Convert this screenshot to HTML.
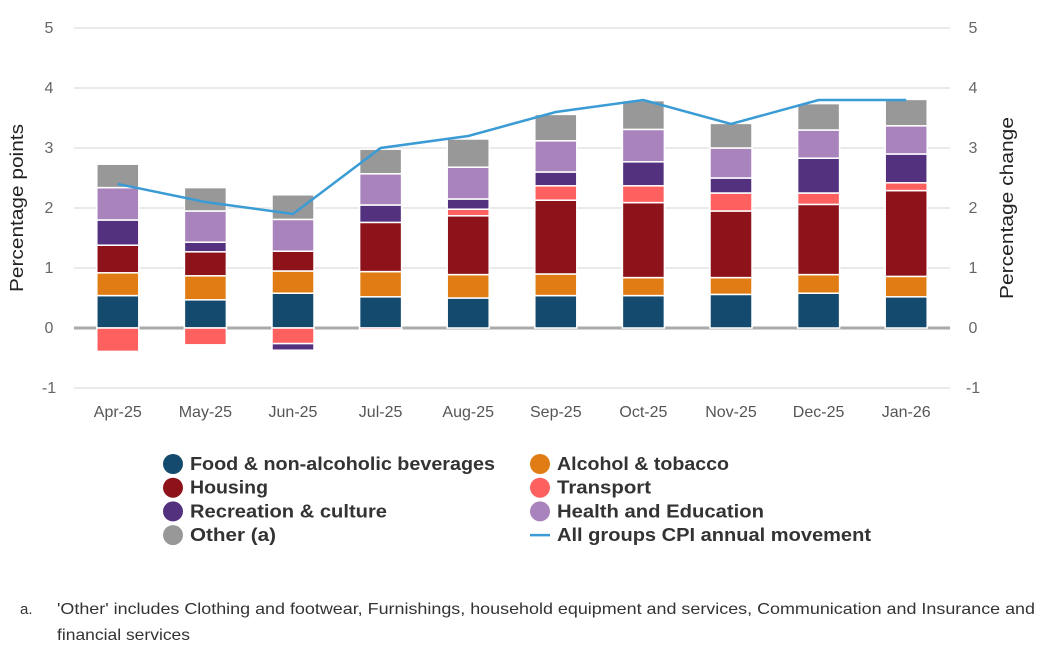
<!DOCTYPE html>
<html><head><meta charset="utf-8"><style>
body{margin:0;background:#fff;font-family:"Liberation Sans",sans-serif}
svg text{font-family:"Liberation Sans",sans-serif}
</style></head><body>
<svg id="chart" width="1041" height="648" xmlns="http://www.w3.org/2000/svg">
<g id="grid"></g><g id="bars"></g><g id="line"></g><g id="axes"></g><g id="legend"></g>
<text x="20" y="614" font-size="15" fill="#333">a.</text>
<text x="57" y="614" font-size="16" fill="#333" textLength="978" lengthAdjust="spacingAndGlyphs">'Other' includes Clothing and footwear, Furnishings, household equipment and services, Communication and Insurance and</text>
<text x="57" y="640" font-size="16" fill="#333" textLength="133" lengthAdjust="spacingAndGlyphs">financial services</text>
</svg>
<script>
const categories=["Apr-25","May-25","Jun-25","Jul-25","Aug-25","Sep-25","Oct-25","Nov-25","Dec-25","Jan-26"];
const food=[0.54,0.47,0.58,0.52,0.50,0.54,0.54,0.56,0.58,0.52];
const alcohol=[0.38,0.40,0.37,0.42,0.39,0.36,0.30,0.28,0.31,0.34];
const housing=[0.46,0.40,0.33,0.82,0.98,1.23,1.25,1.11,1.17,1.43];
const transport=[-0.39,-0.28,-0.26,-0.03,0.11,0.24,0.28,0.30,0.19,0.13];
const recreation=[0.42,0.16,-0.11,0.29,0.17,0.23,0.40,0.25,0.58,0.48];
const health=[0.54,0.52,0.53,0.52,0.53,0.52,0.54,0.50,0.47,0.47];
const other=[0.39,0.39,0.41,0.41,0.47,0.44,0.48,0.41,0.44,0.44];
const cpi=[2.4,2.1,1.9,3.0,3.2,3.6,3.8,3.4,3.8,3.8];
const yTicks=[-1,0,1,2,3,4,5];
const seriesNames=["Food & non-alcoholic beverages","Alcohol & tobacco","Housing","Transport","Recreation & culture","Health and Education","Other (a)"];
const colors=["#134a6e","#e07c13","#8e1219","#fe5f5f","#54317f","#a983bc","#989898"];
const series=[food,alcohol,housing,transport,recreation,health,other];
const legendWidths=[305,172,78,94,197,207,86,314];
const NS="http://www.w3.org/2000/svg";
const x0=74,x1=950,bw=42;
const y=v=>328-v*60;
const xc=i=>x0+(x1-x0)/categories.length*(i+0.5);
function mk(t,a,p){const e=document.createElementNS(NS,t);for(const k in a)e.setAttribute(k,a[k]);p.appendChild(e);return e;}
const G=document.getElementById('grid'),B=document.getElementById('bars'),L=document.getElementById('line'),A=document.getElementById('axes'),LG=document.getElementById('legend');
yTicks.forEach(t=>{
 if(t!==0){const l=mk('line',{x1:x0,x2:x1,y1:y(t),y2:y(t),stroke:'#e3e3e3','stroke-width':1.5},G);
 
 }
 const a=mk('text',{x:49,y:y(t)+5,'font-size':16,fill:'#666','text-anchor':'middle'},A);a.textContent=t;
 
 
 const b=mk('text',{x:973,y:y(t)+5,'font-size':16,fill:'#666','text-anchor':'middle'},A);b.textContent=t;
 
 
});
const z=mk('line',{x1:x0,x2:x1,y1:y(0),y2:y(0),stroke:'#aaa','stroke-width':3},G);


categories.forEach((c,i)=>{
 let pos=0,neg=0;
 series.forEach((s,k)=>{
  const v=s[i];let top,bot;
  if(v>=0){bot=pos;top=pos+v;pos=top;}else{top=neg;bot=neg+v;neg=bot;}
  const r=mk('rect',{x:xc(i)-bw/2,y:y(top),width:bw,height:Math.max(0,y(bot)-y(top)),fill:colors[k],stroke:'#fff','stroke-width':1.5},B);
  
  
 });
 const t=mk('text',{x:xc(i),y:417,'font-size':16,fill:'#555','text-anchor':'middle'},A);t.textContent=c;
 
 
});
const pl=mk('polyline',{points:cpi.map((v,i)=>xc(i)+','+y(v)).join(' '),fill:'none',stroke:'#3a9bd5','stroke-width':2.5},L);


const yl=mk('text',{transform:'translate(23,208) rotate(-90)','font-size':18,fill:'#222','text-anchor':'middle',textLength:168,lengthAdjust:'spacingAndGlyphs'},A);yl.textContent='Percentage points';


const yr=mk('text',{transform:'translate(1013,208) rotate(-90)','font-size':18,fill:'#222','text-anchor':'middle',textLength:182,lengthAdjust:'spacingAndGlyphs'},A);yr.textContent='Percentage change';


const names=seriesNames.concat(["All groups CPI annual movement"]);
const cols=colors.concat(["#3a9bd5"]);
names.forEach((n,k)=>{
 const cx=k%2===0?173:540, cy=464+Math.floor(k/2)*23.7;
 if(k<7){const c=mk('circle',{cx:cx,cy:cy,r:10,fill:cols[k]},LG);
  
  }
 else{const l=mk('line',{x1:530,x2:550,y1:cy,y2:cy,stroke:cols[k],'stroke-width':2.5},LG);
  
  }
 const t=mk('text',{x:cx+17,y:cy+6,'font-size':18,'font-weight':'bold',fill:'#333',textLength:legendWidths[k],lengthAdjust:'spacingAndGlyphs'},LG);t.textContent=n;
 
 
});
</script>
</body></html>
